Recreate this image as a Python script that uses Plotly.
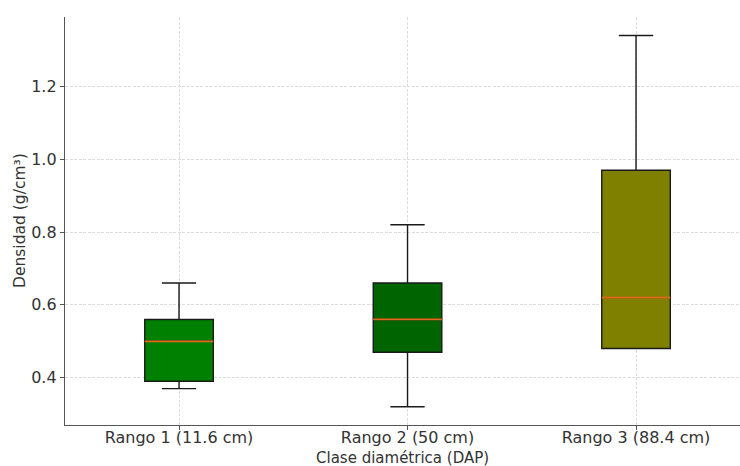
import plotly.graph_objects as go

categories = ["Rango 1 (11.6 cm)", "Rango 2 (50 cm)", "Rango 3 (88.4 cm)"]
lower_whisker = [0.37, 0.32, 0.48]
q1 = [0.39, 0.47, 0.48]
median = [0.50, 0.56, 0.62]
q3 = [0.56, 0.66, 0.97]
upper_whisker = [0.66, 0.82, 1.34]
colors = ["#008000", "#006400", "#808000"]
x_title = "Clase diamétrica (DAP)"
y_title = "Densidad (g/cm³)"

BOX_W = 0.3
fig = go.Figure()
for i, cat in enumerate(categories):
    fig.add_trace(go.Box(
        x=[i], q1=[q1[i]], median=[median[i]], q3=[q3[i]],
        lowerfence=[lower_whisker[i]], upperfence=[upper_whisker[i]],
        width=BOX_W, whiskerwidth=0.5, fillcolor=colors[i],
        line=dict(color="#1a1a1a", width=1.4), boxpoints=False,
        showlegend=False, name=cat, hoverinfo="skip"))
    fig.add_trace(go.Scatter(
        x=[i - BOX_W / 2, i + BOX_W / 2], y=[median[i], median[i]],
        mode="lines", line=dict(color="#e8661c", width=1.8),
        showlegend=False, hoverinfo="skip"))

axis_common = dict(
    showline=True, linecolor="#555555", linewidth=1.3,
    ticks="outside", ticklen=4, tickcolor="#555555", tickwidth=1,
    showgrid=True, gridcolor="#dcdcdc", griddash="3px,1.5px", gridwidth=0.8,
    zeroline=False, tickfont=dict(size=16, color="#333333"),
)
fig.update_layout(
    width=740, height=466,
    margin=dict(l=65, r=0, t=17, b=41),
    paper_bgcolor="white", plot_bgcolor="white",
    font=dict(family="DejaVu Sans", color="#333333"),
    boxmode="overlay",
    xaxis=dict(range=[-0.499, 2.455], tickvals=list(range(len(categories))),
               ticktext=categories, ticklabelstandoff=-6,
               **axis_common),
    yaxis=dict(range=[0.27, 1.391], tickvals=[0.4, 0.6, 0.8, 1.0, 1.2],
               tickformat=".1f",
               **axis_common),
    annotations=[
        dict(text=x_title, xref="paper", yref="paper", x=0.5, y=0,
             xanchor="center", yanchor="middle", yshift=-33,
             showarrow=False, font=dict(size=15, color="#333333")),
        dict(text=y_title, xref="paper", yref="paper", x=0, y=0.5,
             xanchor="center", yanchor="middle", xshift=-45, textangle=-90,
             showarrow=False, font=dict(size=15.5, color="#333333")),
    ],
)
fig.write_html("out.html")
